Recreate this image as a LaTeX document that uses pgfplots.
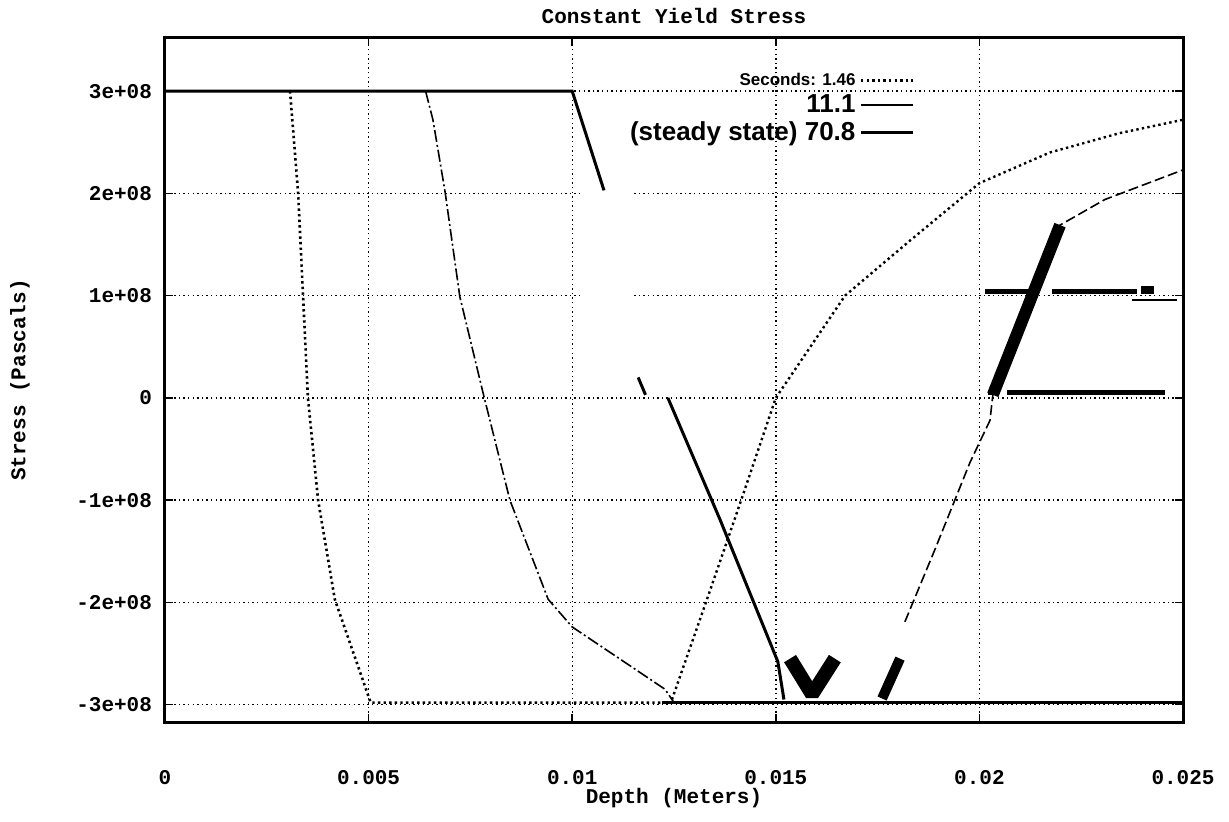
\documentclass[border=0pt]{standalone}
\usepackage{fontspec}
\setmainfont{Liberation Sans}
\setsansfont{Liberation Sans}
\setmonofont{Liberation Mono}
\usepackage{pgfplots}
\pgfplotsset{compat=1.18}
\newcommand{\cfont}{\fontsize{10.5}{12}\selectfont\ttfamily\bfseries}
\begin{document}
\begin{tikzpicture}
\begin{axis}[
  scale only axis, width=509pt, height=342pt,
  xmin=0, xmax=0.025, ymin=-3.17e8, ymax=3.52e8,
  scaled x ticks=false, scaled y ticks=false,
  xtick={0,0.005,0.01,0.015,0.02,0.025},
  xticklabels={0,0.005,0.01,0.015,0.02,0.025},
  ytick={-3e8,-2e8,-1e8,0,1e8,2e8,3e8},
  yticklabels={-3e+08,-2e+08,-1e+08,0,1e+08,2e+08,3e+08},
  ticklabel style={font=\cfont},
  xticklabel style={anchor=center, yshift=-28pt},
  yticklabel style={xshift=-3pt},
  tick style={black, line width=0.8pt},
  major tick length=4pt,
  axis line style={line width=1.5pt},
  grid=major,
  grid style={black, line width=0.7pt, dash pattern=on 0.7pt off 1.6pt},
  title={Constant Yield Stress},
  title style={at={(axis description cs:0.5,1)}, anchor=south, inner sep=0pt, yshift=1pt, font=\cfont},
  xlabel={Depth (Meters)},
  xlabel style={at={(axis description cs:0.5,0)}, anchor=center, yshift=-38pt, font=\cfont},
  ylabel={Stress (Pascals)},
  every axis y label/.style={at={(axis description cs:-0.1425,0.5)}, rotate=90, anchor=center, font=\cfont},
  legend style={at={(axis cs:0.01842,3.22e8)}, anchor=north east, draw=none, fill=none, inner sep=0pt, row sep=-1pt, font=\sffamily\bfseries},
  legend plot pos=right, legend cell align=right,
  legend image code/.code={\draw[#1] (0pt,0pt) -- (26pt,0pt);},
]
% legend
\addlegendimage{line width=1.3pt, dash pattern=on 1.2pt off 1.6pt}
\addlegendentry{\fontsize{8.5}{9}\selectfont Seconds: 1.46}
\addlegendimage{line width=1pt}
\addlegendentry{\fontsize{13}{13}\selectfont 11.1}
\addlegendimage{line width=1.6pt}
\addlegendentry{\fontsize{13}{13}\selectfont (steady state) 70.8}

% blank patch of the scan
\addplot[fill=white, draw=none, forget plot] coordinates {(0.01025,0.66e8) (0.0115,0.66e8) (0.0115,2.1e8) (0.01025,2.1e8)} -- cycle;

% curve 1 (dotted)
\addplot[forget plot, line width=1.3pt, dash pattern=on 1.2pt off 1.6pt] coordinates {
(0.00307,3e8) (0.00327,2e8) (0.00339,1e8) (0.00351,0) (0.00376,-1e8) (0.00417,-1.97e8) (0.00505,-2.98e8) (0.0122,-2.98e8)};
% curve 2 (dash-dot)
\addplot[forget plot, line width=0.8pt, dash pattern=on 6pt off 1.5pt on 1pt off 1.5pt] coordinates {
(0.0064,3e8) (0.00658,2.72e8) (0.00688,2.01e8) (0.00724,0.99e8) (0.00781,0.05e8) (0.00847,-1e8) (0.00941,-1.97e8) (0.0100,-2.24e8) (0.01228,-2.85e8) (0.0125,-2.98e8)};
% curve 3 (solid)
\addplot[forget plot, line width=1.5pt] coordinates {(0,3e8) (0.01,3e8) (0.01078,2.03e8)};
\addplot[forget plot, line width=1.5pt] coordinates {(0.01162,0.2e8) (0.01180,0.03e8)};
\addplot[forget plot, line width=1.5pt] coordinates {(0.01235,0) (0.01363,-1.19e8) (0.01505,-2.58e8) (0.0152,-2.95e8)};
\addplot[forget plot, line width=1.5pt] coordinates {(0.0122,-2.98e8) (0.025,-2.98e8)};
% curve 4 (dotted, rising)
\addplot[forget plot, line width=1.2pt, dash pattern=on 1.2pt off 1.6pt] coordinates {
(0.01245,-2.95e8) (0.01331,-1.97e8) (0.01415,-1e8) (0.015,0) (0.0167,1.0e8) (0.0183,1.54e8) (0.0200,2.1e8) (0.02173,2.4e8) (0.02345,2.59e8) (0.025,2.72e8)};
% curve 5 (dashed, rising)
\addplot[forget plot, line width=0.8pt, dash pattern=on 5pt off 2pt] coordinates {
(0.01817,-2.19e8) (0.0189,-1.49e8) (0.01977,-0.63e8) (0.02026,-0.22e8) (0.02033,0.03e8) (0.02198,1.69e8) (0.02308,1.94e8) (0.025,2.23e8)};

% heavy strokes of the scan
\addplot[forget plot, line width=6pt] coordinates {(0.02033,0.03e8) (0.02198,1.69e8)};
\addplot[forget plot, line width=2.5pt] coordinates {(0.02014,1.036e8) (0.02124,1.036e8)};
\addplot[forget plot, line width=2.5pt] coordinates {(0.02178,1.036e8) (0.02387,1.036e8)};
\addplot[forget plot, line width=4pt] coordinates {(0.02397,1.06e8) (0.02429,1.06e8)};
\addplot[forget plot, line width=1.2pt] coordinates {(0.02375,0.958e8) (0.02485,0.958e8)};
\addplot[forget plot, line width=2.5pt] coordinates {(0.02021,0.049e8) (0.02043,0.049e8)};
\addplot[forget plot, line width=2.5pt] coordinates {(0.02068,0.049e8) (0.02456,0.049e8)};
\addplot[forget plot, line width=7pt, line join=bevel] coordinates {(0.01535,-2.55e8) (0.01589,-2.9e8) (0.01645,-2.55e8)};
\addplot[forget plot, line width=5pt] coordinates {(0.01761,-2.94e8) (0.01805,-2.55e8)};
\end{axis}
\pgfresetboundingbox
\path[use as bounding box] ([xshift=-82.5pt,yshift=-49.5pt]current axis.south west) rectangle ([xshift=23pt,yshift=19pt]current axis.north east);
\end{tikzpicture}
\end{document}
